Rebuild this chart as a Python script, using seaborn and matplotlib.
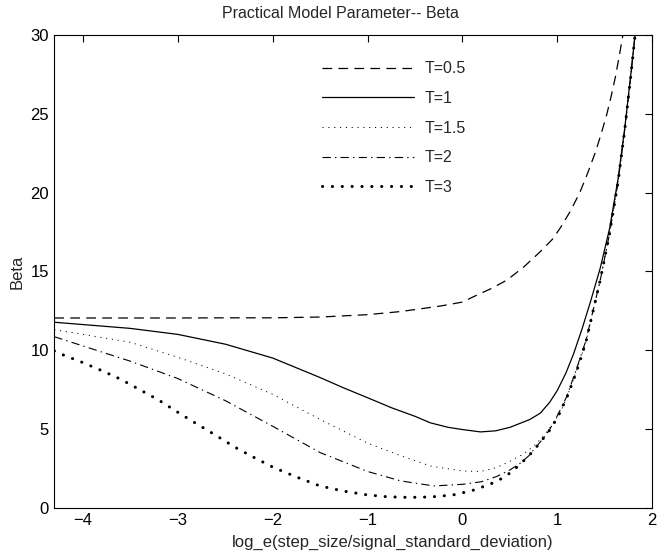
import matplotlib
matplotlib.use("Agg")
import matplotlib.pyplot as plt
import seaborn as sns

# Werte
x_t05 = [-4.3, -3.5, -3.0, -2.5, -2.0, -1.5, -1.0, -0.65, -0.23, 0.0, 0.12, 0.3, 0.47, 0.65,
         0.82, 0.95, 1.03, 1.14, 1.24, 1.32, 1.40, 1.46, 1.52, 1.57, 1.61, 1.65, 1.69]
b_t05 = [12.04, 12.04, 12.04, 12.05, 12.05, 12.1, 12.25, 12.45, 12.8, 13.05, 13.4, 13.9, 14.45, 15.3,
         16.25, 17.05, 17.75, 18.85, 20.05, 21.25, 22.55, 23.7, 24.95, 26.2, 27.3, 28.6, 30.0]

x_t1 = [-4.3, -3.5, -3.0, -2.5, -2.0, -1.5, -1.25, -1.0, -0.75, -0.5, -0.34, -0.15, 0.0, 0.19, 0.35,
        0.5, 0.71, 0.82, 0.92, 1.0, 1.09, 1.17, 1.26, 1.35, 1.45, 1.55, 1.64, 1.71, 1.77, 1.82]
b_t1 = [11.77, 11.38, 11.0, 10.38, 9.5, 8.26, 7.6, 6.98, 6.35, 5.8, 5.39, 5.1, 4.96, 4.81, 4.88,
        5.1, 5.6, 6.0, 6.7, 7.45, 8.55, 9.75, 11.35, 13.1, 15.17, 17.72, 20.9, 24.1, 27.3, 30.1]

x_t15 = [-4.3, -3.5, -3.0, -2.5, -2.0, -1.5, -1.0, -0.65, -0.34, 0.0, 0.19, 0.36, 0.5, 0.64, 0.75,
         0.85, 0.95, 1.03, 1.1, 1.17, 1.3, 1.45, 1.55, 1.64, 1.71, 1.77, 1.82]
b_t15 = [11.3, 10.5, 9.55, 8.5, 7.2, 5.6, 4.1, 3.3, 2.65, 2.33, 2.3, 2.55, 2.95, 3.4, 3.9,
         4.53, 5.3, 6.02, 7.0, 8.15, 10.5, 14.4, 17.4, 20.7, 24.0, 27.2, 30.1]

x_t2 = [-4.3, -3.5, -3.0, -2.5, -2.0, -1.5, -1.0, -0.65, -0.3, 0.01, 0.2, 0.36, 0.5, 0.61, 0.7,
        0.78, 0.88, 0.96, 1.03, 1.10, 1.20, 1.3, 1.45, 1.55, 1.64, 1.71, 1.77, 1.82]
b_t2 = [10.85, 9.3, 8.2, 6.8, 5.17, 3.5, 2.3, 1.7, 1.38, 1.49, 1.65, 1.98, 2.4, 2.83, 3.3,
        3.89, 4.6, 5.39, 6.2, 7.08, 8.79, 10.6, 14.4, 17.4, 20.7, 24.0, 27.2, 30.1]

x_t3 = [-4.3, -4.2, -4.0, -3.8, -3.6, -3.4, -3.2, -3.0, -2.8, -2.6, -2.4, -2.2, -2.0, -1.75, -1.5,
        -1.25, -1.0, -0.8, -0.62, -0.45, -0.3, -0.1, 0.1, 0.29, 0.4, 0.5, 0.59, 0.7, 0.8, 0.91,
        1.0, 1.1, 1.2, 1.3, 1.45, 1.55, 1.64, 1.71, 1.77, 1.82]
b_t3 = [9.95, 9.68, 9.21, 8.70, 8.15, 7.49, 6.83, 6.06, 5.32, 4.6, 3.85, 3.2, 2.58, 1.95, 1.38,
        1.05, 0.81, 0.7, 0.66, 0.66, 0.70, 0.81, 1.08, 1.49, 1.81, 2.20, 2.66, 3.30, 4.0, 4.85,
        5.7, 7.0, 8.6, 10.5, 14.4, 17.4, 20.7, 24.0, 27.2, 30.1]

labels = ["T=0.5", "T=1", "T=1.5", "T=2", "T=3"]
x_ticks = [-4, -3, -2, -1, 0, 1, 2]
y_ticks = [0, 5, 10, 15, 20, 25, 30]

sns.set_theme(style="white")
plt.rcParams["font.family"] = ["Liberation Sans", "DejaVu Sans"]
plt.rcParams["lines.scale_dashes"] = False

fig = plt.figure(figsize=(6.68, 5.55), dpi=100)
ax = fig.add_axes([0.0813, 0.0852, 0.8952, 0.8518])

sns.lineplot(x=x_t05, y=b_t05, ax=ax, color="black", lw=0.9, linestyle=(0, (7, 4.5)), label=labels[0])
sns.lineplot(x=x_t1, y=b_t1, ax=ax, color="black", lw=0.9, linestyle="-", label=labels[1])
sns.lineplot(x=x_t15, y=b_t15, ax=ax, color="black", lw=0.7, linestyle=(0, (0.8, 3.4)), label=labels[2])
sns.lineplot(x=x_t2, y=b_t2, ax=ax, color="black", lw=0.8, linestyle=(0, (6, 3, 1, 3)), label=labels[3])
sns.lineplot(x=x_t3, y=b_t3, ax=ax, color="black", lw=2.2, linestyle=(0, (0.1, 7)),
             dash_capstyle="round", label=labels[4])

ax.set_xlim(-4.3, 2)
ax.set_ylim(0, 30)
ax.set_xticks(x_ticks)
ax.set_yticks(y_ticks)
ax.tick_params(direction="in", length=5, width=0.8, top=True, right=True,
               labelsize=12, colors="black", pad=4)
for sp in ax.spines.values():
    sp.set_color("black")
    sp.set_linewidth(0.8)

ax.set_title("Practical Model Parameter-- Beta", fontsize=11.5, x=0.478, pad=12)
ax.set_xlabel("log_e(step_size/signal_standard_deviation)", fontsize=12)
ax.set_ylabel("Beta", fontsize=12)
ax.xaxis.set_label_coords(0.566, -0.058)
ax.yaxis.set_label_coords(-0.05, 0.5)

ax.legend(loc="upper left", bbox_to_anchor=(0.437, 0.958), frameon=False, fontsize=11.5,
          handlelength=5.75, handletextpad=0.7, labelspacing=0.92, borderaxespad=0)

fig.savefig("out.png", dpi=100)
